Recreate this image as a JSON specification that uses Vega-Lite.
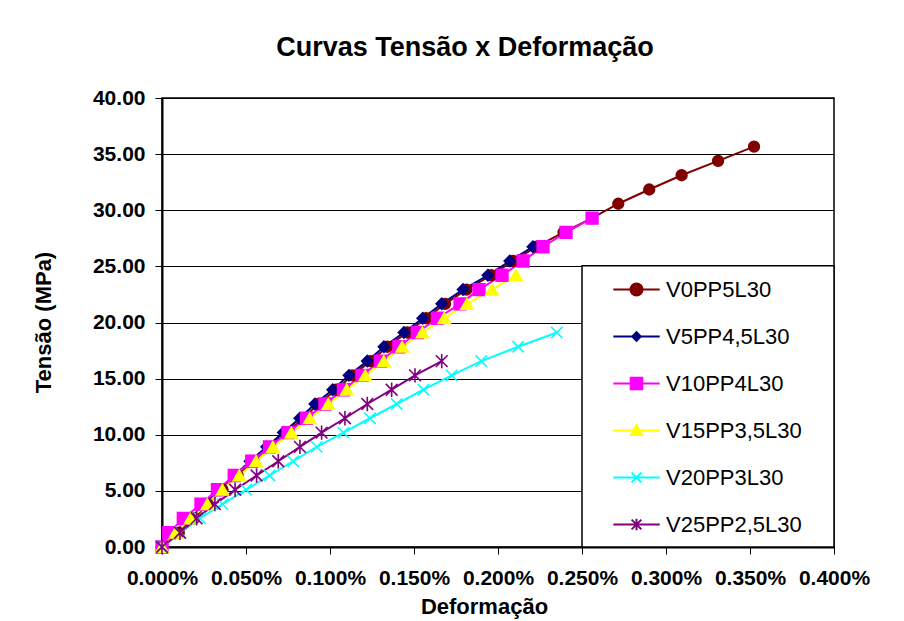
{
  "$schema": "https://vega.github.io/schema/vega-lite/v6.json",
  "autosize": "none",
  "width": 672,
  "height": 449,
  "padding": {"left": 162, "top": 98, "right": 70, "bottom": 74},
  "background": "white",
  "title": {
    "text": "Curvas Tensão x Deformação",
    "font": "Liberation Sans",
    "fontSize": 27,
    "fontWeight": "bold",
    "color": "black",
    "anchor": "middle",
    "baseline": "alphabetic",
    "offset": 4,
    "dx": -33
  },
  "config": {
    "view": {"stroke": "black", "strokeWidth": 1.5},
    "axis": {
      "labelFont": "Liberation Sans",
      "labelFontSize": 21,
      "labelFontWeight": "bold",
      "labelColor": "black",
      "titleFont": "Liberation Sans",
      "titleFontSize": 22,
      "titleFontWeight": "bold",
      "titleColor": "black",
      "domainColor": "black",
      "domainWidth": 2,
      "tickColor": "black",
      "tickSize": 7,
      "tickWidth": 1,
      "labelFlush": false,
      "labelOverlap": false
    },
    "legend": {
      "orient": "none",
      "legendX": 451,
      "legendY": 168,
      "padding": 0,
      "symbolSize": 1990,
      "symbolStrokeWidth": 2,
      "labelFont": "Liberation Sans",
      "labelFontSize": 22,
      "labelColor": "black",
      "labelOffset": 6,
      "rowPadding": 12,
      "symbolOpacity": 1
    }
  },
  "datasets": {
    "curves": [
      {"s": "V0PP5L30", "d": 0, "t": 0},
      {"s": "V0PP5L30", "d": 0.010, "t": 1.27},
      {"s": "V0PP5L30", "d": 0.019, "t": 2.55},
      {"s": "V0PP5L30", "d": 0.027, "t": 3.82},
      {"s": "V0PP5L30", "d": 0.036, "t": 5.10},
      {"s": "V0PP5L30", "d": 0.045, "t": 6.37},
      {"s": "V0PP5L30", "d": 0.0545, "t": 7.64},
      {"s": "V0PP5L30", "d": 0.0643, "t": 8.92},
      {"s": "V0PP5L30", "d": 0.0742, "t": 10.19},
      {"s": "V0PP5L30", "d": 0.084, "t": 11.47},
      {"s": "V0PP5L30", "d": 0.093, "t": 12.74},
      {"s": "V0PP5L30", "d": 0.1036, "t": 14.01},
      {"s": "V0PP5L30", "d": 0.1133, "t": 15.29},
      {"s": "V0PP5L30", "d": 0.1242, "t": 16.56},
      {"s": "V0PP5L30", "d": 0.1341, "t": 17.84},
      {"s": "V0PP5L30", "d": 0.146, "t": 19.11},
      {"s": "V0PP5L30", "d": 0.1572, "t": 20.38},
      {"s": "V0PP5L30", "d": 0.1685, "t": 21.66},
      {"s": "V0PP5L30", "d": 0.1812, "t": 22.93},
      {"s": "V0PP5L30", "d": 0.196, "t": 24.21},
      {"s": "V0PP5L30", "d": 0.209, "t": 25.48},
      {"s": "V0PP5L30", "d": 0.223, "t": 26.75},
      {"s": "V0PP5L30", "d": 0.239, "t": 28.03},
      {"s": "V0PP5L30", "d": 0.256, "t": 29.30},
      {"s": "V0PP5L30", "d": 0.2716, "t": 30.58},
      {"s": "V0PP5L30", "d": 0.290, "t": 31.85},
      {"s": "V0PP5L30", "d": 0.3093, "t": 33.12},
      {"s": "V0PP5L30", "d": 0.331, "t": 34.40},
      {"s": "V0PP5L30", "d": 0.3524, "t": 35.67},

      {"s": "V5PP4,5L30", "d": 0, "t": 0},
      {"s": "V5PP4,5L30", "d": 0.008, "t": 1.27},
      {"s": "V5PP4,5L30", "d": 0.017, "t": 2.55},
      {"s": "V5PP4,5L30", "d": 0.025, "t": 3.82},
      {"s": "V5PP4,5L30", "d": 0.034, "t": 5.10},
      {"s": "V5PP4,5L30", "d": 0.043, "t": 6.37},
      {"s": "V5PP4,5L30", "d": 0.0524, "t": 7.64},
      {"s": "V5PP4,5L30", "d": 0.0623, "t": 8.92},
      {"s": "V5PP4,5L30", "d": 0.0722, "t": 10.19},
      {"s": "V5PP4,5L30", "d": 0.082, "t": 11.47},
      {"s": "V5PP4,5L30", "d": 0.091, "t": 12.74},
      {"s": "V5PP4,5L30", "d": 0.1016, "t": 14.01},
      {"s": "V5PP4,5L30", "d": 0.1113, "t": 15.29},
      {"s": "V5PP4,5L30", "d": 0.1222, "t": 16.56},
      {"s": "V5PP4,5L30", "d": 0.1321, "t": 17.84},
      {"s": "V5PP4,5L30", "d": 0.144, "t": 19.11},
      {"s": "V5PP4,5L30", "d": 0.1552, "t": 20.38},
      {"s": "V5PP4,5L30", "d": 0.1665, "t": 21.66},
      {"s": "V5PP4,5L30", "d": 0.1792, "t": 22.93},
      {"s": "V5PP4,5L30", "d": 0.194, "t": 24.21},
      {"s": "V5PP4,5L30", "d": 0.207, "t": 25.48},
      {"s": "V5PP4,5L30", "d": 0.2208, "t": 26.75},

      {"s": "V10PP4L30", "d": 0, "t": 0},
      {"s": "V10PP4L30", "d": 0.004, "t": 1.27},
      {"s": "V10PP4L30", "d": 0.0127, "t": 2.55},
      {"s": "V10PP4L30", "d": 0.0232, "t": 3.82},
      {"s": "V10PP4L30", "d": 0.033, "t": 5.10},
      {"s": "V10PP4L30", "d": 0.043, "t": 6.37},
      {"s": "V10PP4L30", "d": 0.0534, "t": 7.64},
      {"s": "V10PP4L30", "d": 0.064, "t": 8.92},
      {"s": "V10PP4L30", "d": 0.075, "t": 10.19},
      {"s": "V10PP4L30", "d": 0.086, "t": 11.47},
      {"s": "V10PP4L30", "d": 0.097, "t": 12.74},
      {"s": "V10PP4L30", "d": 0.108, "t": 14.01},
      {"s": "V10PP4L30", "d": 0.119, "t": 15.29},
      {"s": "V10PP4L30", "d": 0.130, "t": 16.56},
      {"s": "V10PP4L30", "d": 0.141, "t": 17.84},
      {"s": "V10PP4L30", "d": 0.152, "t": 19.11},
      {"s": "V10PP4L30", "d": 0.164, "t": 20.38},
      {"s": "V10PP4L30", "d": 0.1774, "t": 21.66},
      {"s": "V10PP4L30", "d": 0.1887, "t": 22.93},
      {"s": "V10PP4L30", "d": 0.2024, "t": 24.21},
      {"s": "V10PP4L30", "d": 0.2149, "t": 25.48},
      {"s": "V10PP4L30", "d": 0.2268, "t": 26.75},
      {"s": "V10PP4L30", "d": 0.2405, "t": 28.03},
      {"s": "V10PP4L30", "d": 0.256, "t": 29.30},

      {"s": "V15PP3,5L30", "d": 0, "t": 0},
      {"s": "V15PP3,5L30", "d": 0.008, "t": 1.27},
      {"s": "V15PP3,5L30", "d": 0.017, "t": 2.55},
      {"s": "V15PP3,5L30", "d": 0.027, "t": 3.82},
      {"s": "V15PP3,5L30", "d": 0.036, "t": 5.10},
      {"s": "V15PP3,5L30", "d": 0.046, "t": 6.37},
      {"s": "V15PP3,5L30", "d": 0.056, "t": 7.64},
      {"s": "V15PP3,5L30", "d": 0.066, "t": 8.92},
      {"s": "V15PP3,5L30", "d": 0.077, "t": 10.19},
      {"s": "V15PP3,5L30", "d": 0.088, "t": 11.47},
      {"s": "V15PP3,5L30", "d": 0.099, "t": 12.74},
      {"s": "V15PP3,5L30", "d": 0.110, "t": 14.01},
      {"s": "V15PP3,5L30", "d": 0.121, "t": 15.29},
      {"s": "V15PP3,5L30", "d": 0.132, "t": 16.56},
      {"s": "V15PP3,5L30", "d": 0.143, "t": 17.84},
      {"s": "V15PP3,5L30", "d": 0.155, "t": 19.11},
      {"s": "V15PP3,5L30", "d": 0.168, "t": 20.38},
      {"s": "V15PP3,5L30", "d": 0.1815, "t": 21.66},
      {"s": "V15PP3,5L30", "d": 0.1964, "t": 22.93},
      {"s": "V15PP3,5L30", "d": 0.2107, "t": 24.21},

      {"s": "V20PP3L30", "d": 0, "t": 0},
      {"s": "V20PP3L30", "d": 0.011, "t": 1.27},
      {"s": "V20PP3L30", "d": 0.0225, "t": 2.55},
      {"s": "V20PP3L30", "d": 0.036, "t": 3.82},
      {"s": "V20PP3L30", "d": 0.050, "t": 5.10},
      {"s": "V20PP3L30", "d": 0.064, "t": 6.37},
      {"s": "V20PP3L30", "d": 0.078, "t": 7.64},
      {"s": "V20PP3L30", "d": 0.0921, "t": 8.92},
      {"s": "V20PP3L30", "d": 0.108, "t": 10.19},
      {"s": "V20PP3L30", "d": 0.1238, "t": 11.47},
      {"s": "V20PP3L30", "d": 0.1397, "t": 12.74},
      {"s": "V20PP3L30", "d": 0.1556, "t": 14.01},
      {"s": "V20PP3L30", "d": 0.1724, "t": 15.29},
      {"s": "V20PP3L30", "d": 0.190, "t": 16.56},
      {"s": "V20PP3L30", "d": 0.212, "t": 17.84},
      {"s": "V20PP3L30", "d": 0.235, "t": 19.11},

      {"s": "V25PP2,5L30", "d": 0, "t": 0},
      {"s": "V25PP2,5L30", "d": 0.0107, "t": 1.27},
      {"s": "V25PP2,5L30", "d": 0.0206, "t": 2.55},
      {"s": "V25PP2,5L30", "d": 0.0315, "t": 3.82},
      {"s": "V25PP2,5L30", "d": 0.0435, "t": 5.10},
      {"s": "V25PP2,5L30", "d": 0.0563, "t": 6.37},
      {"s": "V25PP2,5L30", "d": 0.0692, "t": 7.64},
      {"s": "V25PP2,5L30", "d": 0.0821, "t": 8.92},
      {"s": "V25PP2,5L30", "d": 0.095, "t": 10.19},
      {"s": "V25PP2,5L30", "d": 0.1089, "t": 11.47},
      {"s": "V25PP2,5L30", "d": 0.1222, "t": 12.74},
      {"s": "V25PP2,5L30", "d": 0.1367, "t": 14.01},
      {"s": "V25PP2,5L30", "d": 0.1506, "t": 15.29},
      {"s": "V25PP2,5L30", "d": 0.1665, "t": 16.56}
    ]
  },
  "data": {"name": "curves"},
  "layer": [
    {
      "mark": {"type": "line", "strokeWidth": 2},
      "encoding": {
        "x": {
          "field": "d",
          "type": "quantitative",
          "scale": {"domain": [0, 0.4], "nice": false, "zero": false},
          "axis": {
            "title": "Deformação",
            "values": [0, 0.05, 0.1, 0.15, 0.2, 0.25, 0.3, 0.35, 0.4],
            "labelExpr": "format(datum.value, '.3f') + '%'",
            "grid": false,
            "labelPadding": 13,
            "titleX": 322,
            "titleY": 66,
            "titleBaseline": "alphabetic",
            "titleAlign": "center",
            "titleAnchor": null
          }
        },
        "y": {
          "field": "t",
          "type": "quantitative",
          "scale": {"domain": [0, 40], "nice": false},
          "axis": {
            "title": "Tensão (MPa)",
            "values": [0, 5, 10, 15, 20, 25, 30, 35, 40],
            "format": ".2f",
            "grid": true,
            "gridColor": "black",
            "gridWidth": 1.2,
            "labelPadding": 10,
            "titleX": -112,
            "titleY": 224,
            "titleAngle": 270,
            "titleBaseline": "alphabetic",
            "titleAlign": "center",
            "titleAnchor": null
          }
        },
        "color": {
          "field": "s",
          "type": "nominal",
          "scale": {
            "domain": ["V0PP5L30", "V5PP4,5L30", "V10PP4L30", "V15PP3,5L30", "V20PP3L30", "V25PP2,5L30"],
            "range": ["#800000", "#000080", "#FF00FF", "#FFFF00", "#00FFFF", "#800080"]
          },
          "legend": null
        }
      }
    },
    {
      "mark": {"type": "point", "filled": true, "opacity": 1, "strokeWidth": 1.6},
      "encoding": {
        "x": {"field": "d", "type": "quantitative"},
        "y": {"field": "t", "type": "quantitative"},
        "color": {
          "field": "s",
          "type": "nominal",
          "scale": {
            "domain": ["V0PP5L30", "V5PP4,5L30", "V10PP4L30", "V15PP3,5L30", "V20PP3L30", "V25PP2,5L30"],
            "range": ["#800000", "#000080", "#FF00FF", "#FFFF00", "#00FFFF", "#800080"]
          },
          "legend": null
        },
        "stroke": {
          "field": "s",
          "type": "nominal",
          "scale": {
            "domain": ["V0PP5L30", "V5PP4,5L30", "V10PP4L30", "V15PP3,5L30", "V20PP3L30", "V25PP2,5L30"],
            "range": ["#800000", "#000080", "#FF00FF", "#FFFF00", "#00FFFF", "#800080"]
          },
          "legend": null
        },
        "size": {
          "field": "s",
          "type": "nominal",
          "scale": {
            "domain": ["V0PP5L30", "V5PP4,5L30", "V10PP4L30", "V15PP3,5L30", "V20PP3L30", "V25PP2,5L30"],
            "range": [115, 170, 115, 150, 100, 110]
          },
          "legend": null
        },
        "shape": {
          "field": "s",
          "type": "nominal",
          "scale": {
            "domain": ["V0PP5L30", "V5PP4,5L30", "V10PP4L30", "V15PP3,5L30", "V20PP3L30", "V25PP2,5L30"],
            "range": ["circle", "diamond", "square", "triangle-up", "M-0.9,-0.9L0.9,0.9M-0.9,0.9L0.9,-0.9", "M-0.9,-0.9L0.9,0.9M-0.9,0.9L0.9,-0.9M0,-1.1L0,1.1"]
          },
          "legend": null
        }
      }
    },
    {
      "transform": [{"filter": "datum.s == 'V0PP5L30' && datum.d == 0"}],
      "mark": {"type": "rect", "fill": "white", "stroke": "black", "strokeWidth": 1.5},
      "encoding": {
        "x": {"datum": 0.25, "type": "quantitative"},
        "x2": {"datum": 0.4},
        "y": {"datum": 0, "type": "quantitative"},
        "y2": {"datum": 25.05}
      }
    },
    {
      "transform": [{"filter": "false"}],
      "mark": {"type": "point", "filled": true, "opacity": 1},
      "encoding": {
        "x": {"field": "d", "type": "quantitative"},
        "y": {"field": "t", "type": "quantitative"},
        "color": {
          "field": "s",
          "type": "nominal",
          "title": null,
          "scale": {
            "domain": ["V0PP5L30", "V5PP4,5L30", "V10PP4L30", "V15PP3,5L30", "V20PP3L30", "V25PP2,5L30"],
            "range": ["#800000", "#000080", "#FF00FF", "#FFFF00", "#00FFFF", "#800080"]
          }
        },
        "stroke": {
          "field": "s",
          "type": "nominal",
          "title": null,
          "scale": {
            "domain": ["V0PP5L30", "V5PP4,5L30", "V10PP4L30", "V15PP3,5L30", "V20PP3L30", "V25PP2,5L30"],
            "range": ["#800000", "#000080", "#FF00FF", "#FFFF00", "#00FFFF", "#800080"]
          }
        },
        "shape": {
          "field": "s",
          "type": "nominal",
          "title": null,
          "scale": {
            "domain": ["V0PP5L30", "V5PP4,5L30", "V10PP4L30", "V15PP3,5L30", "V20PP3L30", "V25PP2,5L30"],
            "range": [
              "M-1.04,0H1.04M0.27,0A0.27,0.27 0 1,1 -0.27,0A0.27,0.27 0 1,1 0.27,0Z",
              "M-1.04,0H1.04M0,-0.19L0.19,0L0,0.19L-0.19,0Z",
              "M-1.04,0H1.04M-0.26,-0.26H0.26V0.26H-0.26Z",
              "M-1.04,0H1.04M0,-0.24L0.25,0.2H-0.25Z",
              "M-1.04,0H1.04M-0.22,-0.22L0.22,0.22M-0.22,0.22L0.22,-0.22",
              "M-1.04,0H1.04M-0.22,-0.22L0.22,0.22M-0.22,0.22L0.22,-0.22M0,-0.26V0.26"
            ]
          }
        }
      }
    }
  ],
  "resolve": {"scale": {"color": "independent", "stroke": "independent", "shape": "independent", "size": "independent"}}
}
